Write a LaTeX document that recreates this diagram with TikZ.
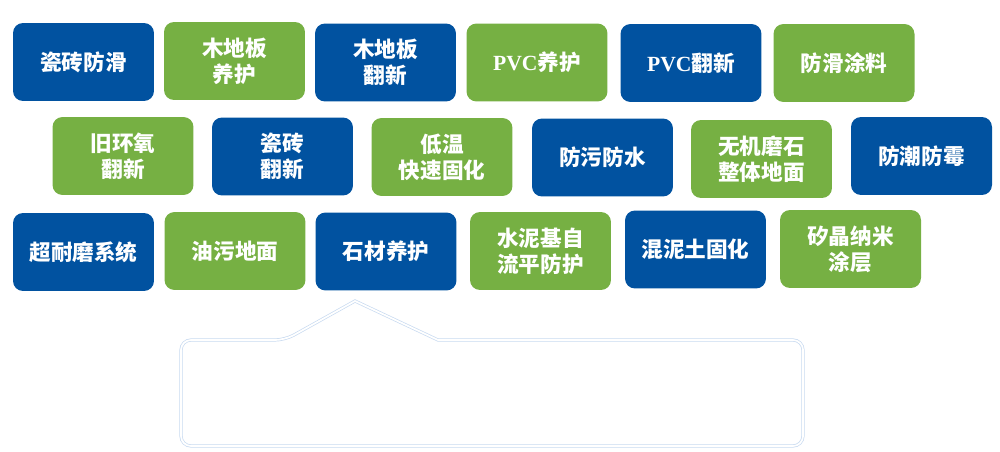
\documentclass[tikz,border=0pt]{standalone}
\usepackage{fontspec}
\newfontfamily\cjk{Noto Sans CJK SC}
\newfontfamily\latinserif{Liberation Serif}
\definecolor{tileblue}{RGB}{1,82,160}
\definecolor{tilegreen}{RGB}{118,176,67}
\definecolor{calloutline}{RGB}{200,218,240}
\begin{document}
\begin{tikzpicture}[x=0.02cm,y=-0.02cm,
  tile/.style={rounded corners=0.2cm, minimum width=2.82cm, minimum height=1.56cm,
    text=white, align=center, inner sep=0pt,
    font=\cjk\bfseries\fontsize{12.3}{14.7}\selectfont},
  bluetile/.style={tile, fill=tileblue},
  greentile/.style={tile, fill=tilegreen},
  callout/.style={draw=calloutline, double=white, double distance=1pt, line width=0.4pt}]
\useasboundingbox (0,0) rectangle (1000,452);
% row 1
\node[bluetile]  (a1) at (83.5,62)  {瓷砖防滑};
\node[greentile] (a2) at (234.5,61) {木地板\\养护};
\node[bluetile]  (a3) at (385.5,62.5) {木地板\\翻新};
\node[greentile] (a4) at (537,62.5) {{\latinserif\bfseries PVC}养护};
\node[bluetile]  (a5) at (691,63)   {{\latinserif\bfseries PVC}翻新};
\node[greentile] (a6) at (844,63)   {防滑涂料};
% row 2
\node[greentile] (b1) at (123,156)  {旧环氧\\翻新};
\node[bluetile]  (b2) at (282.5,156.5) {瓷砖\\翻新};
\node[greentile] (b3) at (442,157)  {低温\\快速固化};
\node[bluetile]  (b4) at (602.5,157.5) {防污防水};
\node[greentile] (b5) at (761.5,159) {无机磨石\\整体地面};
\node[bluetile]  (b6) at (921.5,156) {防潮防霉};
% row 3
\node[bluetile]  (c1) at (83.5,252) {超耐磨系统};
\node[greentile] (c2) at (235,251)  {油污地面};
\node[bluetile]  (c3) at (386,251.5) {石材养护};
\node[greentile] (c4) at (540.5,251) {水泥基自\\流平防护};
\node[bluetile]  (c5) at (695.5,249.5) {混泥土固化};
\node[greentile] (c6) at (850.5,249) {矽晶纳米\\涂层};
% callout
\coordinate (apex) at (355,301);
\draw[callout] (181,393) [rounded corners=0.2cm] -- (181,340) -- (285,340) [sharp corners] -- (apex) -- (438,340) -- (600,340) [rounded corners=0.2cm] -- (803,340) -- (803,446) -- (181,446) -- cycle;
\end{tikzpicture}
\end{document}
